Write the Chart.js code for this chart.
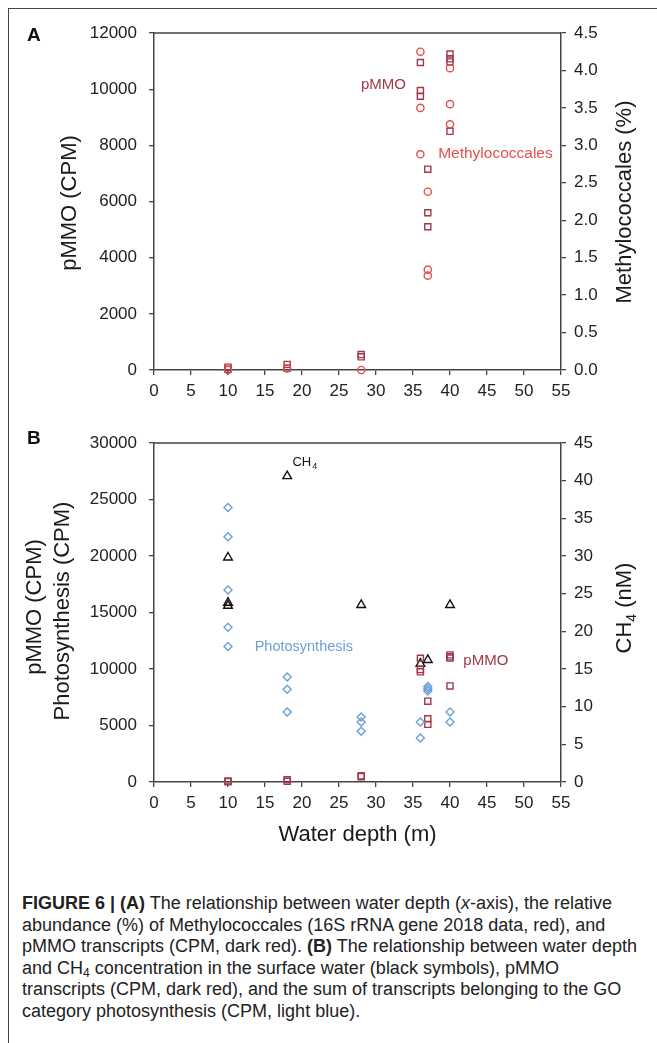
<!DOCTYPE html>
<html>
<head>
<meta charset="utf-8">
<script src="https://cdn.jsdelivr.net/npm/chart.js@4.4.0/dist/chart.umd.min.js"></script>
<style>
  body { margin: 0; background: #fff; width: 657px; height: 1043px; overflow: hidden; position: relative; }
  #frame { position: absolute; left: 8px; top: 8px; width: 700px; height: 1100px; border-top: 1.5px solid #444; border-left: 1.5px solid #444; }
  canvas { position: absolute; left: 0; }
  #caption { position: absolute; left: 22px; top: 893px; font-family: "Liberation Sans Narrow", "Arial Narrow", sans-serif; font-size: 18px; line-height: 21.6px; color: #222; white-space: nowrap; }
  #caption sub { font-size: 12px; line-height: 0; vertical-align: -3px; }
</style>
</head>
<body>
<div id="frame"></div>
<canvas id="chartA" width="657" height="400" style="top:0px"></canvas>
<canvas id="chartB" width="657" height="460" style="top:400px"></canvas>
<div id="caption">
  <b>FIGURE 6 | (A)</b> The relationship between water depth (<i>x</i>-axis), the relative<br>
  abundance (%) of Methylococcales (16S rRNA gene 2018 data, red), and<br>
  pMMO transcripts (CPM, dark red). <b>(B)</b> The relationship between water depth<br>
  and CH<sub>4</sub> concentration in the surface water (black symbols), pMMO<br>
  transcripts (CPM, dark red), and the sum of transcripts belonging to the GO<br>
  category photosynthesis (CPM, light blue).
</div>
<script>
// --- data ---
const pmmoDepth = [10, 10, 18, 18, 28, 28, 36, 36, 36, 37, 37, 37, 40, 40, 40, 40];
const pmmoCPM = [100, 30, 200, 60, 550, 470, 10950, 9950, 9750, 7150, 5600, 5100, 11250, 11080, 10970, 8500];

const methyloDepth = [10, 18, 28, 36, 36, 36, 37, 37, 37, 40, 40, 40];
const methyloPct = [0.0, 0.02, 0.0, 4.25, 3.5, 2.88, 2.38, 1.34, 1.26, 4.03, 3.55, 3.28];

const photoDepth = [10, 10, 10, 10, 10, 18, 18, 18, 28, 28, 28, 36, 36, 37, 37, 37, 40, 40];
const photoCPM = [24300, 21700, 17000, 13700, 12000, 9300, 8200, 6200, 5750, 5300, 4500, 5300, 3900, 8450, 8250, 8050, 6200, 5300];

const ch4Depth = [10, 10, 10, 18, 28, 36, 37, 40];
const ch4nM = [29.8, 23.8, 23.4, 40.6, 23.5, 15.7, 16.2, 23.5];

const xTicksMax = 55;

const axisColor = '#444';
const darkRed = '#a2384a';
const red = '#e2504c';
const lightBlue = '#6c9fd6';
const fontFam = '"Liberation Sans", Arial, sans-serif';

function pts(xs, ys) {
  return xs.map((x, i) => ({ x: x, y: ys[i] }));
}

function ds(label, xs, ys, style, color, r, axis) {
  return {
    label: label,
    data: pts(xs, ys),
    yAxisID: axis,
    pointStyle: style,
    pointRadius: r,
    pointHoverRadius: r,
    pointBorderWidth: 1.4,
    borderColor: color,
    backgroundColor: 'rgba(255,255,255,0)',
    showLine: false,
    clip: false
  };
}

function xScale(h) {
  return {
    type: 'linear', min: 0, max: xTicksMax,
    ticks: { stepSize: 5, autoSkip: false, maxRotation: 0, color: '#222', font: { family: fontFam, size: 17 }, padding: 6 },
    grid: { drawOnChartArea: false, color: axisColor, lineWidth: 1.3, tickLength: 5 },
    border: { color: axisColor, width: 1.5 },
    afterFit: s => { s.height = h; }
  };
}

function yScale(pos, max, step, w, fmt) {
  return {
    type: 'linear', position: pos, min: 0, max: max,
    ticks: { stepSize: step, color: '#222', font: { family: fontFam, size: 17 }, padding: pos == 'left' ? 12 : 8, callback: fmt },
    grid: { drawOnChartArea: false, color: axisColor, lineWidth: 1.3, tickLength: 5 },
    border: { color: axisColor, width: 1.5 },
    afterFit: s => { s.width = w; }
  };
}

// draws the top frame line, panel letter, axis titles and in-plot labels
const decor = {
  id: 'decor',
  afterDraw(chart, args, o) {
    const { ctx, chartArea: a, scales } = chart;
    ctx.save();
    ctx.strokeStyle = axisColor;
    ctx.lineWidth = 1.5;
    ctx.beginPath();
    ctx.moveTo(a.left, a.top);
    ctx.lineTo(a.right, a.top);
    ctx.stroke();

    ctx.fillStyle = '#111';
    ctx.font = 'bold 19px ' + fontFam;
    ctx.textBaseline = 'middle';
    ctx.textAlign = 'left';
    ctx.fillText(o.letter, o.letterX, o.letterY);

    // rotated axis titles (all read bottom to top)
    ctx.font = '22px ' + fontFam;
    ctx.fillStyle = '#1a1a1a';
    o.titles.forEach(t => {
      ctx.save();
      ctx.translate(t.x, t.y);
      ctx.rotate(-Math.PI / 2);
      ctx.textAlign = 'center';
      if (t.sub) {
        const w1 = ctx.measureText(t.text).width;
        ctx.font = '14px ' + fontFam;
        const w2 = ctx.measureText(t.sub).width;
        ctx.font = '22px ' + fontFam;
        const w3 = ctx.measureText(t.rest).width;
        let x0 = -(w1 + w2 + w3) / 2;
        ctx.textAlign = 'left';
        ctx.fillText(t.text, x0, 0);
        ctx.font = '14px ' + fontFam;
        ctx.fillText(t.sub, x0 + w1, 7);
        ctx.font = '22px ' + fontFam;
        ctx.fillText(t.rest, x0 + w1 + w2, 0);
      } else {
        ctx.fillText(t.text, 0, 0);
      }
      ctx.restore();
    });

    if (o.xTitle) {
      ctx.textAlign = 'center';
      ctx.fillText(o.xTitle, (a.left + a.right) / 2, o.xTitleY);
    }

    // series labels placed in data units
    o.labels.forEach(l => {
      const px = scales.x.getPixelForValue(l.x);
      const py = scales[l.axis].getPixelForValue(l.y);
      ctx.fillStyle = l.color;
      ctx.font = l.size + 'px ' + fontFam;
      ctx.textAlign = l.align;
      ctx.fillText(l.text, px, py);
      if (l.sub) {
        const w = ctx.measureText(l.text).width;
        ctx.font = '9px ' + fontFam;
        ctx.textAlign = 'left';
        ctx.fillText(l.sub, px + w + 1, py + 4);
      }
    });
    ctx.restore();
  }
};

new Chart(document.getElementById('chartA'), {
  type: 'scatter',
  data: {
    datasets: [
      ds('Methylococcales', methyloDepth, methyloPct, 'circle', red, 3.6, 'y1'),
      ds('pMMO', pmmoDepth, pmmoCPM, 'rect', darkRed, 4.3, 'y')
    ]
  },
  options: {
    responsive: false,
    animation: false,
    layout: { padding: { top: 33, left: 0, right: 0, bottom: 0 } },
    scales: {
      x: xScale(30),
      y: yScale('left', 12000, 2000, 154),
      y1: yScale('right', 4.5, 0.5, 96, v => v.toFixed(1))
    },
    plugins: {
      legend: { display: false },
      tooltip: { enabled: false },
      decor: {
        letter: 'A', letterX: 27, letterY: 36,
        titles: [
          { text: 'pMMO (CPM)', x: 70, y: 203 },
          { text: 'Methylococcales (%)', x: 625, y: 202 }
        ],
        labels: [
          { text: 'pMMO', x: 31, y: 10150, axis: 'y', color: darkRed, size: 15, align: 'center' },
          { text: 'Methylococcales', x: 38.4, y: 7692, axis: 'y', color: red, size: 15.5, align: 'left' }
        ]
      }
    }
  },
  plugins: [decor]
});

new Chart(document.getElementById('chartB'), {
  type: 'scatter',
  data: {
    datasets: [
      ds('Photosynthesis', photoDepth, photoCPM, 'rectRot', lightBlue, 4, 'y'),
      ds('pMMO', pmmoDepth, pmmoCPM, 'rect', darkRed, 4.3, 'y'),
      ds('CH4', ch4Depth, ch4nM, 'triangle', '#111', 5, 'y1')
    ]
  },
  options: {
    responsive: false,
    animation: false,
    layout: { padding: { top: 43, left: 0, right: 0, bottom: 0 } },
    scales: {
      x: xScale(78),
      y: yScale('left', 30000, 5000, 154),
      y1: yScale('right', 45, 5, 96)
    },
    plugins: {
      legend: { display: false },
      tooltip: { enabled: false },
      decor: {
        letter: 'B', letterX: 27, letterY: 39,
        titles: [
          { text: 'pMMO (CPM)', x: 35, y: 207 },
          { text: 'Photosynthesis (CPM)', x: 63, y: 211 },
          { text: 'CH', sub: '4', rest: ' (nM)', x: 625, y: 208 }
        ],
        xTitle: 'Water depth (m)', xTitleY: 435,
        labels: [
          { text: 'CH', sub: '4', x: 18.7, y: 28250, axis: 'y', color: '#111', size: 13, align: 'left' },
          { text: 'Photosynthesis', x: 13.6, y: 11940, axis: 'y', color: lightBlue, size: 14.5, align: 'left' },
          { text: 'pMMO', x: 41.8, y: 10700, axis: 'y', color: darkRed, size: 15, align: 'left' }
        ]
      }
    }
  },
  plugins: [decor]
});
</script>
</body>
</html>
